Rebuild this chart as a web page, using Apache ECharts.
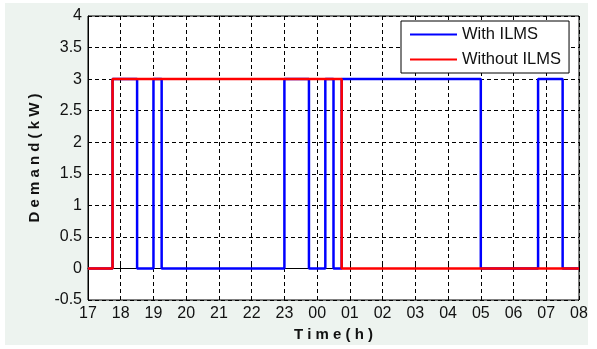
<!DOCTYPE html>
<html>
<head>
<meta charset="utf-8">
<script src="https://cdn.jsdelivr.net/npm/echarts@6/dist/echarts.min.js"></script>
<style>html,body{margin:0;padding:0;background:#fff;}#c{width:597px;height:349px;}</style>
</head>
<body>
<div id="c"></div>
<script>
// Time in hours (17 = 17:00, 24 = 00:00 next day, 32 = 08:00)
const withX = [17, 17.75, 18.5, 19, 19.25, 23, 23.75, 24.25, 24.5, 24.75, 29, 30.75, 31.5, 32];
const withY = [0, 3, 0, 3, 0, 3, 0, 3, 0, 3, 0, 3, 0, 0];
const withoutX = [17, 17.75, 24.75, 32];
const withoutY = [0, 3, 0, 0];
const seriesNames = ['With ILMS', 'Without ILMS'];
const xTicks = ['17','18','19','20','21','22','23','00','01','02','03','04','05','06','07','08'];
const yTicks = ['-0.5','0','0.5','1','1.5','2','2.5','3','3.5','4'];

const font = '"Liberation Sans", Arial, sans-serif';
const chart = echarts.init(document.getElementById('c'), null, {renderer: 'canvas'});
chart.setOption({
  animation: false,
  backgroundColor: '#ffffff',
  graphic: [{
    type: 'rect', z: -10, silent: true,
    shape: {x: 5, y: 3, width: 583, height: 342},
    style: {fill: '#edf3ef'}
  }],
  grid: {left: 88, right: 18, top: 16, bottom: 49, show: true, backgroundColor: '#ffffff', borderColor: '#000', borderWidth: 1},
  legend: {
    left: 401, top: 21,
    orient: 'vertical',
    data: [{name: seriesNames[0], icon: 'rect'}, {name: seriesNames[1], icon: 'rect'}],
    itemWidth: 47, itemHeight: 2, itemGap: 8,
    padding: [5, 8, 5, 9],
    backgroundColor: '#ffffff', borderColor: '#000', borderWidth: 1,
    textStyle: {fontFamily: font, fontSize: 16.5, color: '#111', lineHeight: 17, padding: [0,0,0,0]}
  },
  xAxis: {
    type: 'value', min: 17, max: 32, interval: 1,
    name: 'T i m e ( h )', nameLocation: 'middle', nameGap: 27,
    nameTextStyle: {fontFamily: font, fontSize: 15, fontWeight: 'bold', color: '#111'},
    axisLine: {show: true, lineStyle: {color: '#000', width: 1}},
    axisTick: {show: true, inside: true, length: 4, lineStyle: {color: '#000'}},
    axisLabel: {fontFamily: font, fontSize: 16, color: '#111', margin: 6,
      formatter: v => xTicks[Math.round(v) - 17]},
    splitLine: {show: true, lineStyle: {color: '#000', type: [4, 3], width: 1}}
  },
  yAxis: {
    type: 'value', min: -0.5, max: 4, interval: 0.5,
    name: 'D e m a n d ( k W )', nameLocation: 'middle', nameGap: 46,
    nameTextStyle: {fontFamily: font, fontSize: 15, fontWeight: 'bold', color: '#111'},
    axisLine: {show: true, lineStyle: {color: '#000', width: 1}},
    axisTick: {show: true, inside: true, length: 4, lineStyle: {color: '#000'}},
    axisLabel: {fontFamily: font, fontSize: 16, color: '#111', margin: 6,
      formatter: v => yTicks[Math.round((v + 0.5) * 2)]},
    splitLine: {show: true, lineStyle: {color: '#000', type: [4, 3], width: 1}}
  },
  series: [
    {name: seriesNames[0], type: 'line', step: 'end', showSymbol: false, symbol: 'none',
     data: withX.map((x, i) => [x, withY[i]]),
     lineStyle: {color: '#0000ff', width: 2.5}, itemStyle: {color: '#0000ff'}, z: 3},
    {name: seriesNames[1], type: 'line', step: 'end', showSymbol: false, symbol: 'none',
     data: withoutX.map((x, i) => [x, withoutY[i]]),
     lineStyle: {color: '#ff0000', width: 2.5}, itemStyle: {color: '#ff0000'}, z: 4}
  ]
});
</script>
</body>
</html>
